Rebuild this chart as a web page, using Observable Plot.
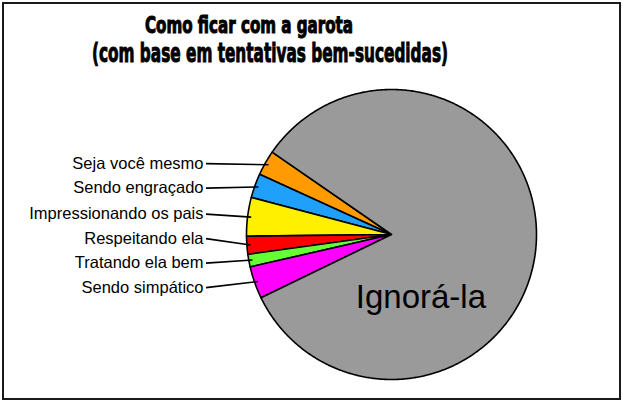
<!DOCTYPE html>
<html><head><meta charset="utf-8">
<script src="https://cdn.jsdelivr.net/npm/d3@7"></script>
<script src="https://cdn.jsdelivr.net/npm/@observablehq/plot@0.6"></script>
<style>
body{margin:0;background:#fff;}
#wrap{position:relative;width:623px;height:403px;overflow:hidden;background:#fff;}
#title{position:relative;height:75px;font-family:"DejaVu Sans",sans-serif;font-weight:bold;font-stretch:condensed;color:#000;}
.t{position:absolute;white-space:nowrap;line-height:1;transform-origin:0 0;-webkit-text-stroke:1px #000;}
#chart svg{display:block;}
#frame{position:absolute;left:2px;top:2px;width:615px;height:394px;border:2px solid #1a1a1a;pointer-events:none;}
</style></head>
<body><div id="wrap">
<div id="title"><div class="t" id="t1">Como ficar com a garota</div><div class="t" id="t2">(com base em tentativas bem-sucedidas)</div></div>
<div id="chart"></div>
<div id="frame"></div>
</div>
<script>
// ---- data ----
const categories = ["Seja você mesmo","Sendo engraçado","Impressionando os pais","Respeitando ela","Tratando ela bem","Sendo simpático","Ignorá-la"];
const values = [2.8, 2.7, 4.3, 2.0, 1.4, 3.6, 83.2];
const colors = ["#ff9a00","#1fa0fb","#fff000","#ff0000","#66ff33","#ff00ff","#9a9a9a"];
const titleLines = ["Como ficar com a garota","(com base em tentativas bem-sucedidas)"];

// ---- layout ----
const W = 623, H = 328, cx = 391, cy = 159, R = 145;
const startDeg = 145.4;       // math angle where the first slice begins (counter-clockwise)
const labelRight = 203, lineStart = 205.5, labelGap = 24.5;
const anchorR = 0.975;
const bigLabelDeg = -65, bigLabelR = 0.48;

const total = d3.sum(values);
const rad = d => d * Math.PI / 180;
const polys = [];
const mids = [];
let cum = 0;
values.forEach((v, i) => {
  const a0 = startDeg + 360 * cum / total;
  const a1 = startDeg + 360 * (cum + v) / total;
  cum += v;
  mids.push((a0 + a1) / 2);
  const n = Math.max(2, Math.ceil((a1 - a0) / 0.5));
  polys.push({cat: categories[i], x: 0, y: 0});
  for (let k = 0; k <= n; k++) {
    const a = rad(a0 + (a1 - a0) * k / n);
    polys.push({cat: categories[i], x: Math.cos(a), y: Math.sin(a)});
  }
  polys.push({cat: categories[i], x: 0, y: 0});
});

// labels for the small slices with simple collision relaxation
const small = categories.slice(0, -1).map((c, i) => {
  const a = rad(mids[i]);
  return {cat: c, ax: anchorR * Math.cos(a), ay: anchorR * Math.sin(a), ly: anchorR * Math.sin(a)};
});
const g = labelGap / R;
for (let it = 0; it < 300; it++) {
  for (let i = 1; i < small.length; i++) {
    const d = small[i - 1].ly - small[i].ly;
    if (d < g) { const s = (g - d) / 2; small[i - 1].ly += s; small[i].ly -= s; }
  }
}
const lx = (labelRight - cx) / R, l1 = (lineStart - cx) / R;
const big = [{cat: categories[categories.length - 1], x: bigLabelR * Math.cos(rad(bigLabelDeg)), y: bigLabelR * Math.sin(rad(bigLabelDeg))}];

const chart = Plot.plot({
  width: W, height: H,
  marginTop: 0, marginRight: 0, marginBottom: 0, marginLeft: 0,
  x: {axis: null, domain: [(0 - cx) / R, (W - cx) / R], range: [0, W]},
  y: {axis: null, domain: [-(H - cy) / R, cy / R], range: [H, 0]},
  color: {domain: categories, range: colors},
  style: {background: "transparent"},
  marks: [
    Plot.line(polys, {x: "x", y: "y", z: "cat", fill: "cat", stroke: "#000", strokeWidth: 1.6, strokeLinejoin: "round"}),
    Plot.link(small, {x1: l1, y1: "ly", x2: "ax", y2: "ay", stroke: "#000", strokeWidth: 1.6}),
    Plot.text(small, {x: lx, y: "ly", text: "cat", textAnchor: "end", fontSize: 16.5, fontFamily: "Liberation Sans, Arial, sans-serif", fill: "#000"}),
    Plot.text(big, {x: "x", y: "y", text: "cat", fontSize: 33, fontFamily: "Liberation Sans, Arial, sans-serif", fill: "#000"})
  ]
});
document.getElementById("chart").appendChild(chart);

// ---- title ----
const tspec = [
  {id: "t1", text: titleLines[0], size: 23, top: 14, left: 145, width: 208},
  {id: "t2", text: titleLines[1], size: 27, top: 39, left: 92, width: 356}
];
tspec.forEach(s => {
  const el = document.getElementById(s.id);
  el.textContent = s.text;
  el.style.fontSize = s.size + "px";
  el.style.top = s.top + "px";
  el.style.left = s.left + "px";
  const w = el.getBoundingClientRect().width;
  el.style.transform = `scaleX(${s.width / w})`;
});
</script>
</body></html>
